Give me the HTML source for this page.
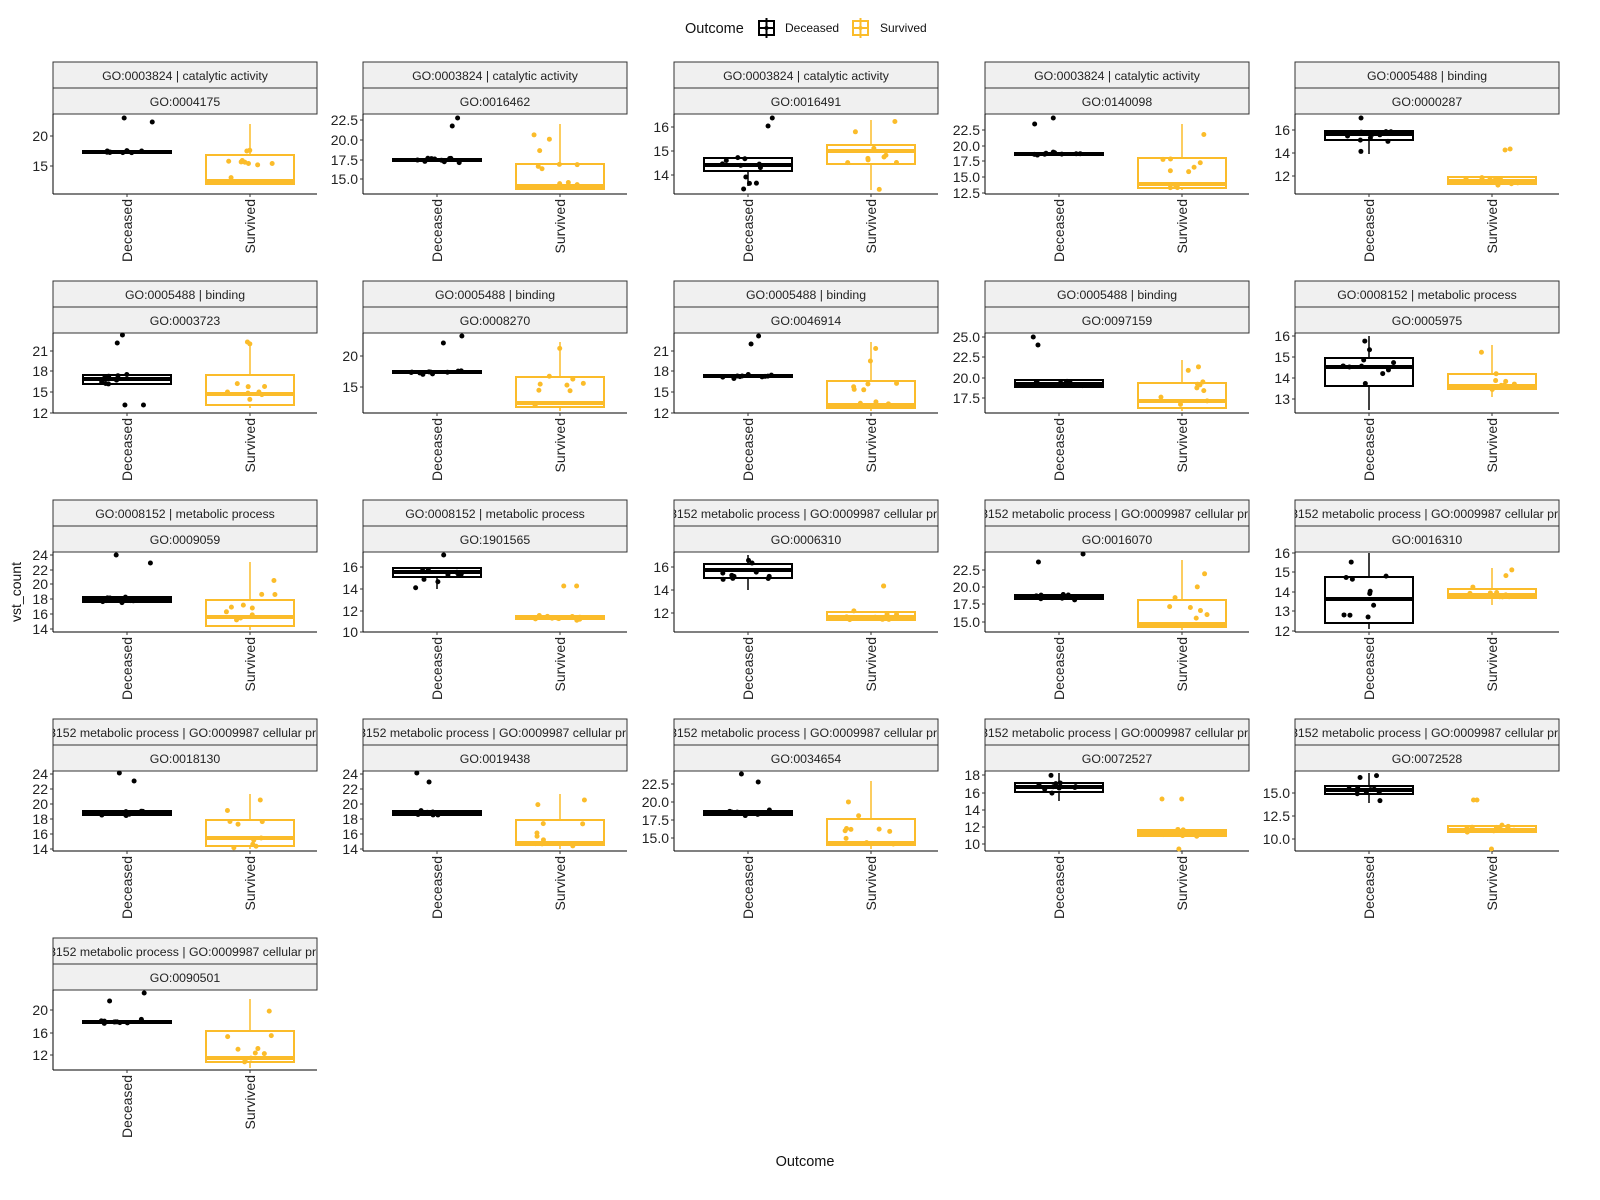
<!DOCTYPE html>
<html><head><meta charset="utf-8"><style>
html,body{margin:0;padding:0;background:#fff;width:1600px;height:1200px;overflow:hidden}
svg text{font-family:"Liberation Sans",Arial,sans-serif}
</style></head><body>
<svg id="s" width="1600" height="1200" xmlns="http://www.w3.org/2000/svg">
<text x="685" y="33" font-size="14.5" fill="#111">Outcome</text>
<g stroke="#000" stroke-width="2" fill="none"><rect x="759" y="21" width="15" height="14"/><line x1="759" y1="28" x2="774" y2="28"/><line x1="766.5" y1="18" x2="766.5" y2="38"/></g>
<circle cx="766.5" cy="28" r="2" fill="#000"/>
<text x="785" y="32" font-size="12" fill="#111">Deceased</text>
<g stroke="#fbbc2a" stroke-width="2" fill="none"><rect x="853" y="21" width="15" height="14"/><line x1="853" y1="28" x2="868" y2="28"/><line x1="860.5" y1="18" x2="860.5" y2="38"/></g>
<circle cx="860.5" cy="28" r="2" fill="#fbbc2a"/>
<text x="880" y="32" font-size="12" fill="#111">Survived</text>
<text transform="translate(21,592) rotate(-90)" text-anchor="middle" font-size="14" fill="#111">vst_count</text>
<text x="805" y="1166" text-anchor="middle" font-size="14.5" fill="#111">Outcome</text>
<g id="panels"></g>
</svg>
<script>
var A="GO:0003824 | catalytic activity",B="GO:0005488 | binding",C="GO:0008152 | metabolic process",E="GO:0008152 metabolic process | GO:0009987  cellular process";
var P=[
[A,"GO:0004175",[["20",22],["15",52]],[39,38,37,37,39,[8,4]],[70,67,41,70,10,[]]],
[A,"GO:0016462",[["22.5",6],["20.0",26],["17.5",46],["15.0",65]],[47,46,45,45,47,[12,4]],[75,72,50,76,10,[]]],
[A,"GO:0016491",[["16",13],["15",37],["14",61]],[57,51,44,72,44,[4,12,75]],[50,37,31,76,6,[]]],
[A,"GO:0140098",[["22.5",16],["20.0",32],["17.5",47],["15.0",63],["12.5",79]],[41,40,39,39,41,[4,10]],[74,70,44,76,10,[]]],
[B,"GO:0000287",[["16",16],["14",39],["12",62]],[26,20,17,40,17,[4]],[70,67,63,70,63,[35,36]]],
[B,"GO:0003723",[["21",18],["18",38],["15",59],["12",80]],[51,46,42,51,42,[2,10,72,72]],[72,61,42,75,9,[]]],
[B,"GO:0008270",[["20",23],["15",54]],[40,39,38,38,40,[3,10]],[74,70,44,78,9,[]]],
[B,"GO:0046914",[["21",18],["18",38],["15",59],["12",80]],[44,43,42,42,44,[3,11]],[75,72,48,78,9,[]]],
[B,"GO:0097159",[["25.0",4],["22.5",24],["20.0",45],["17.5",65]],[54,51,47,54,47,[4,12]],[75,68,50,78,27,[]]],
[C,"GO:0005975",[["16",3],["15",24],["14",45],["13",66]],[53,34,25,77,3,[]],[56,53,41,64,12,[]]],
[C,"GO:0009059",[["24",3],["22",18],["20",32],["18",47],["16",62],["14",77]],[50,48,45,50,45,[3,11]],[74,65,48,78,10,[]]],
[C,"GO:1901565",[["16",15],["14",37],["12",59],["10",80]],[25,20,16,37,16,[3]],[67,65,64,67,64,[34,34]]],
[E,"GO:0006310",[["16",15],["14",38],["12",61]],[26,18,12,38,3,[]],[68,65,60,68,60,[34,34]]],
[E,"GO:0016070",[["22.5",18],["20.0",35],["17.5",52],["15.0",70]],[47,45,43,47,43,[2,10]],[75,72,48,78,8,[]]],
[E,"GO:0016310",[["16",1],["15",20],["14",40],["13",59],["12",79]],[71,47,25,77,1,[]],[46,43,37,53,16,[]]],
[E,"GO:0018130",[["24",3],["22",18],["20",33],["18",48],["16",63],["14",78]],[44,42,40,44,40,[2,10]],[75,67,49,78,23,[]]],
[E,"GO:0019438",[["24",3],["22",18],["20",33],["18",48],["16",63],["14",78]],[44,42,40,44,40,[2,11]],[74,72,49,78,23,[]]],
[E,"GO:0034654",[["22.5",13],["20.0",31],["17.5",49],["15.0",67]],[44,42,40,44,40,[3,11]],[74,72,48,78,10,[]]],
[E,"GO:0072527",[["18",4],["16",22],["14",39],["12",56],["10",73]],[21,16,12,30,2,[]],[65,62,59,65,59,[28,28,78]]],
[E,"GO:0072528",[["15.0",22],["12.5",45],["10.0",68]],[23,19,15,32,2,[]],[61,59,55,61,55,[29,29,78]]],
[E,"GO:0090501",[["20",20],["16",43],["12",65]],[33,32,31,33,31,[3,11]],[72,68,41,78,9,[]]]
];
var seed=7;function r(){seed=(seed*9301+49297)%233280;return seed/233280;}
var cols=[53,363,674,985,1295],h="";
P.forEach(function(p,i){
 var cx=cols[i%5],st=62+219*Math.floor(i/5),pt=st+52,w=264;
 h+='<defs><clipPath id="c'+i+'"><rect x="'+cx+'" y="'+st+'" width="'+w+'" height="26"/></clipPath></defs>';
 h+='<rect x="'+cx+'" y="'+st+'" width="'+w+'" height="26" fill="#f0f0f0" stroke="#333" stroke-width="1"/>';
 h+='<rect x="'+cx+'" y="'+(st+26)+'" width="'+w+'" height="26" fill="#f0f0f0" stroke="#333" stroke-width="1"/>';
 if(p[0]===E) h+='<text clip-path="url(#c'+i+')" x="'+(cx-47)+'" y="'+(st+18)+'" font-size="12.3" fill="#222">'+p[0]+'</text>';
 else h+='<text clip-path="url(#c'+i+')" x="'+(cx+w/2)+'" y="'+(st+18)+'" text-anchor="middle" font-size="12.3" fill="#222">'+p[0]+'</text>';
 h+='<text x="'+(cx+w/2)+'" y="'+(st+44)+'" text-anchor="middle" font-size="12.3" fill="#222">'+p[1]+'</text>';
 h+='<line x1="'+cx+'" y1="'+pt+'" x2="'+cx+'" y2="'+(pt+80)+'" stroke="#000" stroke-width="1"/>';
 h+='<line x1="'+cx+'" y1="'+(pt+80)+'" x2="'+(cx+w)+'" y2="'+(pt+80)+'" stroke="#000" stroke-width="1"/>';
 p[2].forEach(function(t){h+='<line x1="'+(cx-3)+'" y1="'+(pt+t[1])+'" x2="'+cx+'" y2="'+(pt+t[1])+'" stroke="#333"/>';
  h+='<text x="'+(cx-5)+'" y="'+(pt+t[1]+5)+'" text-anchor="end" font-size="14" fill="#222">'+t[0]+'</text>';});
 [[p[3],cx+74,"#000","Deceased"],[p[4],cx+197,"#fbbc2a","Survived"]].forEach(function(g){
  var b=g[0],x=g[1],c=g[2];
  h+='<line x1="'+x+'" y1="'+(pt+b[4])+'" x2="'+x+'" y2="'+(pt+b[3])+'" stroke="'+c+'" stroke-width="1.5"/>';
  h+='<rect x="'+(x-44)+'" y="'+(pt+b[2])+'" width="88" height="'+Math.max(b[0]-b[2],1)+'" fill="#fff" stroke="'+c+'" stroke-width="2"/>';
  h+='<line x1="'+(x-44)+'" y1="'+(pt+b[1])+'" x2="'+(x+44)+'" y2="'+(pt+b[1])+'" stroke="'+c+'" stroke-width="4"/>';
  for(var k=0;k<10;k++){var yy=b[2]+(b[0]-b[2])*r()+(r()-0.5)*4;var lo=Math.min(b[3],78),hi=Math.max(b[4],2);if(k>6){yy=hi+(lo-hi)*r();}
   h+='<circle cx="'+(x-26+52*r())+'" cy="'+(pt+yy)+'" r="2.5" fill="'+c+'"/>';}
  b[5].forEach(function(o){h+='<circle cx="'+(x-26+52*r())+'" cy="'+(pt+o)+'" r="2.5" fill="'+c+'"/>';});
  h+='<line x1="'+x+'" y1="'+(pt+80)+'" x2="'+x+'" y2="'+(pt+83)+'" stroke="#333"/>';
  h+='<text transform="translate('+(x+5)+','+(pt+85)+') rotate(-90)" text-anchor="end" font-size="14" fill="#222">'+g[3]+'</text>';
 });
});
document.getElementById("panels").innerHTML=h;
</script>
</body></html>
